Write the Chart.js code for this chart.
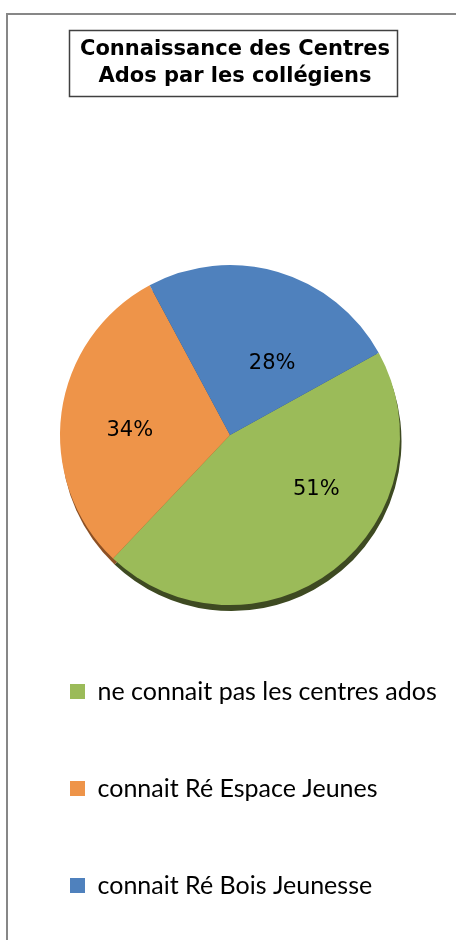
<!DOCTYPE html>
<html>
<head>
<meta charset="utf-8">
<script src="https://cdn.jsdelivr.net/npm/chart.js@4.4.0/dist/chart.umd.min.js"></script>
<style>
    body { margin: 0; background: #fff; }
    #wrap { position: relative; width: 456px; height: 940px; overflow: hidden; }
    #frame { position: absolute; left: 6px; top: 13px; width: 600px; height: 1000px;
             border-left: 2px solid #878787; border-top: 2px solid #878787; }
    #box { position: absolute; left: 2px; top: 0; width: 456px; height: 940px; }
</style>
</head>
<body>
<div id="wrap">
    <div id="frame"></div>
    <div id="box"><canvas id="pieChart"></canvas></div>
</div>
<script>
// Data
const categories = ['ne connait pas les centres ados', 'connait Ré Espace Jeunes', 'connait Ré Bois Jeunesse'];
const percentages = [51, 34, 28];
const sliceColors = ['#9BBB59', '#EE9449', '#4F81BD'];
const shadowColors = ['#3E4A22', '#8C5024', '#2E4B70'];

// Excel placed the labels a bit off the slice middle
const labelShift = [-20, -5, 14];      // degrees
const labelRadius = [0.6, 0.59, 0.49]; // fraction of radius

// Dark rim under the pie (fake 3D thickness)
const rimPlugin = {
    id: 'rim',
    beforeDatasetsDraw(chart) {
        const ctx = chart.ctx;
        const arcs = chart.getDatasetMeta(0).data;
        ctx.save();
        ctx.translate(1.5, 6);
        arcs.forEach((arc, i) => {
            const p = arc.getProps(['x', 'y', 'startAngle', 'endAngle', 'outerRadius']);
            ctx.beginPath();
            ctx.moveTo(p.x, p.y);
            ctx.arc(p.x, p.y, p.outerRadius, p.startAngle, p.endAngle);
            ctx.closePath();
            ctx.fillStyle = shadowColors[i];
            ctx.fill();
        });
        ctx.restore();
    }
};

// Percent labels inside the slices
const pctPlugin = {
    id: 'pct',
    afterDatasetsDraw(chart) {
        const ctx = chart.ctx;
        const arcs = chart.getDatasetMeta(0).data;
        ctx.save();
        ctx.font = '21px "DejaVu Sans"';
        ctx.fillStyle = '#000';
        ctx.textAlign = 'center';
        ctx.textBaseline = 'middle';
        arcs.forEach((arc, i) => {
            const p = arc.getProps(['x', 'y', 'startAngle', 'endAngle', 'outerRadius']);
            const a = (p.startAngle + p.endAngle) / 2 + labelShift[i] * Math.PI / 180;
            const r = p.outerRadius * labelRadius[i];
            ctx.fillText(percentages[i] + '%', p.x + Math.cos(a) * r, p.y + Math.sin(a) * r);
        });
        ctx.restore();
    }
};

// Box around the title
const titleBoxPlugin = {
    id: 'titleBox',
    afterDraw(chart) {
        const ctx = chart.ctx;
        ctx.save();
        ctx.strokeStyle = '#404040';
        ctx.lineWidth = 1.5;
        ctx.strokeRect(67.5, 30.5, 328, 66);
        ctx.restore();
    }
};

function initChart() {
    const ctx = document.getElementById('pieChart').getContext('2d');
    new Chart(ctx, {
        type: 'pie',
        data: {
            labels: categories,
            datasets: [{
                data: percentages,
                backgroundColor: sliceColors,
                borderWidth: 0
            }]
        },
        options: {
            responsive: true,
            maintainAspectRatio: false,
            animation: false,
            rotation: 61,
            radius: 170,
            layout: { padding: { left: -4, right: -14, top: 0, bottom: 32 } },
            plugins: {
                title: {
                    display: true,
                    text: ['Connaissance des Centres', 'Ados par les collégiens'],
                    color: '#000',
                    font: { family: '"DejaVu Sans"', size: 21, weight: 'bold', lineHeight: 1.29 },
                    padding: { top: 36, bottom: 173 }
                },
                legend: {
                    position: 'bottom',
                    align: 'start',
                    labels: {
                        boxWidth: 15,
                        boxHeight: 15,
                        padding: 72,
                        color: '#000',
                        font: { family: 'Lato', size: 25 }
                    }
                },
                tooltip: { enabled: false }
            }
        },
        plugins: [rimPlugin, pctPlugin, titleBoxPlugin]
    });
}

window.onload = initChart;
</script>
</body>
</html>
